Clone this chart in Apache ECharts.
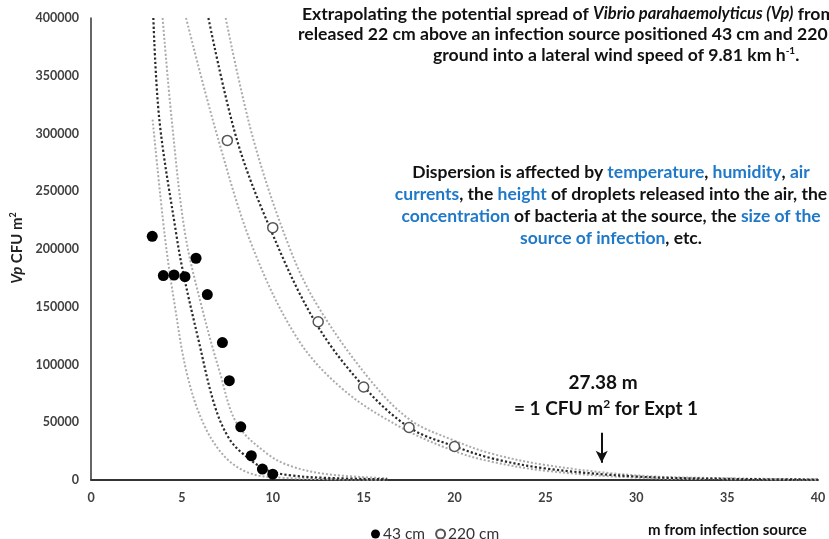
<!DOCTYPE html>
<html>
<head>
<meta charset="utf-8">
<script src="https://cdn.jsdelivr.net/npm/echarts@6/dist/echarts.min.js"></script>
<style>
  html, body { margin: 0; padding: 0; background: #fff; }
  #chart { width: 829px; height: 539px; }
</style>
</head>
<body>
<div id="chart"></div>
<script>
// observed counts, 43 cm source
const obs43X = [3.37, 3.98, 4.57, 5.17, 5.78, 6.40, 7.23, 7.61, 8.24, 8.82, 9.43, 10.0]
const obs43Y = [211000, 177000, 177500, 176000, 192000, 160500, 119000, 86000, 46000, 21000, 9500, 5000]

// observed counts, 220 cm source
const obs220X = [7.5, 10.0, 12.5, 15.0, 17.5, 20.0]
const obs220Y = [294000, 218500, 137000, 80500, 45500, 29000]

// fitted curve + bands, 43 cm
const fit43 = [[3.43, 400000], [3.76, 312000], [4.68, 214000], [5.08, 179000], [5.91, 121500], [6.82, 63600], [7.65, 34700], [8.57, 20000], [9.67, 8700], [11, 4000], [13, 1800], [16.3, 600]]
const lo43 = [[3.39, 312000], [4.07, 210000], [4.62, 150000], [5.27, 92600], [6.18, 49000], [7.37, 20000], [8.75, 5800], [10.5, 2000], [13, 700], [16.3, 200]]
const hi43 = [[3.94, 400000], [4.44, 312000], [5.17, 214000], [6.09, 150000], [7.1, 92600], [8.02, 49000], [9.67, 23000], [11, 12000], [13, 5000], [16.3, 1500]]

// fitted curve + bands, 220 cm
const fit220 = [[6.46, 400000], [8.02, 295000], [9.85, 218000], [12.33, 137000], [15.0, 81000], [17.56, 45000], [20.03, 29000], [22, 19000], [25, 10000], [30, 3000], [35, 1000], [40, 400]]
const lo220 = [[5.23, 400000], [7.0, 295000], [8.93, 200000], [11.4, 121500], [13.9, 78000], [17.0, 46000], [20, 25000], [22, 16000], [25, 8000], [30, 2000], [35, 700], [40, 200]]
const hi220 = [[7.41, 400000], [8.93, 295000], [10.95, 200000], [12.5, 150000], [15.35, 86800], [17.56, 52000], [19.9, 34700], [22, 23000], [25, 13000], [30, 4000], [35, 1500], [40, 600]]

const xTicks = [0, 40, 5]
const yTicks = [0, 400000, 50000]

// arrow for the 1 CFU point
const arrowX = 28.1
const arrowFrom = 41000
const arrowTo = 15000

const FONT = 'Lato'
const BLUE = '#1f78c8'
const INK = '#111'

const zip = (xs, ys) => xs.map((x, i) => [x, ys[i]])

const curve = (name, data, dark) => ({
  name,
  type: 'line',
  data,
  smooth: 0.35,
  symbol: 'none',
  silent: true,
  z: 2,
  lineStyle: dark
    ? { color: '#2a2a2a', width: 2.2, type: 'dotted' }
    : { color: '#ababab', width: 2, type: 'dotted' },
})

const textLine = (pos, top, text, rich, size, align = 'left') => ({
  type: 'text',
  x: pos,
  y: top,
  style: {
    text,
    fontFamily: FONT,
    fontWeight: 'bold',
    fontSize: size,
    fill: INK,
    align,
    verticalAlign: 'middle',
    rich: rich || {},
  },
})

const sup = (size) => ({
  sup: { fontFamily: FONT, fontWeight: 'bold', fontSize: size, fill: INK, verticalAlign: 'top', lineHeight: size * 1.8 },
})

const blueRich = {
  b: { fontFamily: FONT, fontWeight: 'bold', fontSize: 17.5, fill: BLUE },
}

const chart = echarts.init(document.getElementById('chart'))

chart.setOption({
  animation: false,
  backgroundColor: '#fff',
  textStyle: { fontFamily: FONT },
  grid: { left: 91, right: 11, top: 18, bottom: 59, containLabel: false },
  xAxis: {
    type: 'value',
    min: xTicks[0],
    max: xTicks[1],
    interval: xTicks[2],
    splitLine: { show: false },
    axisTick: { show: false },
    axisLine: { lineStyle: { color: '#333', width: 1.8 } },
    axisLabel: { color: '#404040', fontWeight: 'bold', fontSize: 12.5, margin: 11 },
  },
  yAxis: {
    type: 'value',
    min: yTicks[0],
    max: yTicks[1],
    interval: yTicks[2],
    splitLine: { show: false },
    axisTick: { show: false },
    axisLine: { show: true, lineStyle: { color: '#333', width: 1.5 } },
    axisLabel: {
      color: '#404040',
      fontWeight: 'bold',
      fontSize: 12.5,
      margin: 12,
      formatter: (v) => String(v),
    },
  },
  legend: {
    data: ['43 cm', '220 cm'],
    left: 366,
    top: 521,
    itemWidth: 9,
    itemHeight: 9,
    itemGap: 10,
    textStyle: { color: '#333', fontSize: 15.5, fontFamily: FONT, padding: [0, 0, 0, -2] },
  },
  series: [
    curve('lo43', lo43, false),
    curve('hi43', hi43, false),
    curve('fit43', fit43, true),
    curve('lo220', lo220, false),
    curve('hi220', hi220, false),
    Object.assign(curve('fit220', fit220, true), {
      markLine: {
        silent: true,
        symbol: ['none', 'arrow'],
        symbolSize: [9, 12],
        label: { show: false },
        lineStyle: { color: INK, width: 2, type: 'solid' },
        data: [[{ coord: [arrowX, arrowFrom] }, { coord: [arrowX, arrowTo] }]],
      },
    }),
    {
      name: '43 cm',
      type: 'scatter',
      data: zip(obs43X, obs43Y),
      symbol: 'circle',
      symbolSize: 11,
      z: 5,
      itemStyle: { color: '#000', opacity: 1 },
    },
    {
      name: '220 cm',
      type: 'scatter',
      data: zip(obs220X, obs220Y),
      symbol: 'circle',
      symbolSize: 10,
      z: 5,
      itemStyle: { color: '#fff', borderColor: '#555', borderWidth: 1.5, opacity: 1 },
    },
  ],
  graphic: [
    {
      type: 'text',
      x: 17,
      y: 248,
      rotation: Math.PI / 2,
      style: {
        text: '{i|Vp} CFU m{s|2}',
        fontFamily: FONT,
        fontWeight: 'bold',
        fontSize: 15,
        fill: '#222',
        align: 'center',
        verticalAlign: 'middle',
        rich: {
          i: { fontFamily: FONT, fontStyle: 'italic', fontWeight: 'bold', fontSize: 15, fill: '#222' },
          s: { fontFamily: FONT, fontWeight: 'bold', fontSize: 9, fill: '#222', verticalAlign: 'top', lineHeight: 17 },
        },
      },
    },
    textLine(302, 14, 'Extrapolating the potential spread of {it|Vibrio parahaemolyticus (Vp)} from droplets', {
      it: { fontFamily: FONT, fontWeight: 'bold', fontStyle: 'italic', fontSize: 16.5, fill: INK },
    }, 17.6),
    textLine(298, 34, 'released 22 cm above an infection source positioned 43 cm and 220 cm above', null, 17.6),
    textLine(433, 55, 'ground into a lateral wind speed of 9.81 km h{sup|-1}.', sup(10), 17.6),
    textLine(611, 172, 'Dispersion is affected by {b|temperature}, {b|humidity}, {b|air}', blueRich, 17.5, 'center'),
    textLine(611, 194, '{b|currents}, the {b|height} of droplets released into the air, the', blueRich, 17.5, 'center'),
    textLine(611, 216, '{b|concentration} of bacteria at the source, the {b|size of the}', blueRich, 17.5, 'center'),
    textLine(611, 238, '{b|source of infection}, etc.', blueRich, 17.5, 'center'),
    textLine(603, 383, '27.38 m', null, 19, 'center'),
    textLine(606, 409, '= 1 CFU m{sup|2} for Expt 1', sup(12), 19, 'center'),
    textLine(648, 530, 'm from infection source', null, 15),
  ],
})
</script>
</body>
</html>
